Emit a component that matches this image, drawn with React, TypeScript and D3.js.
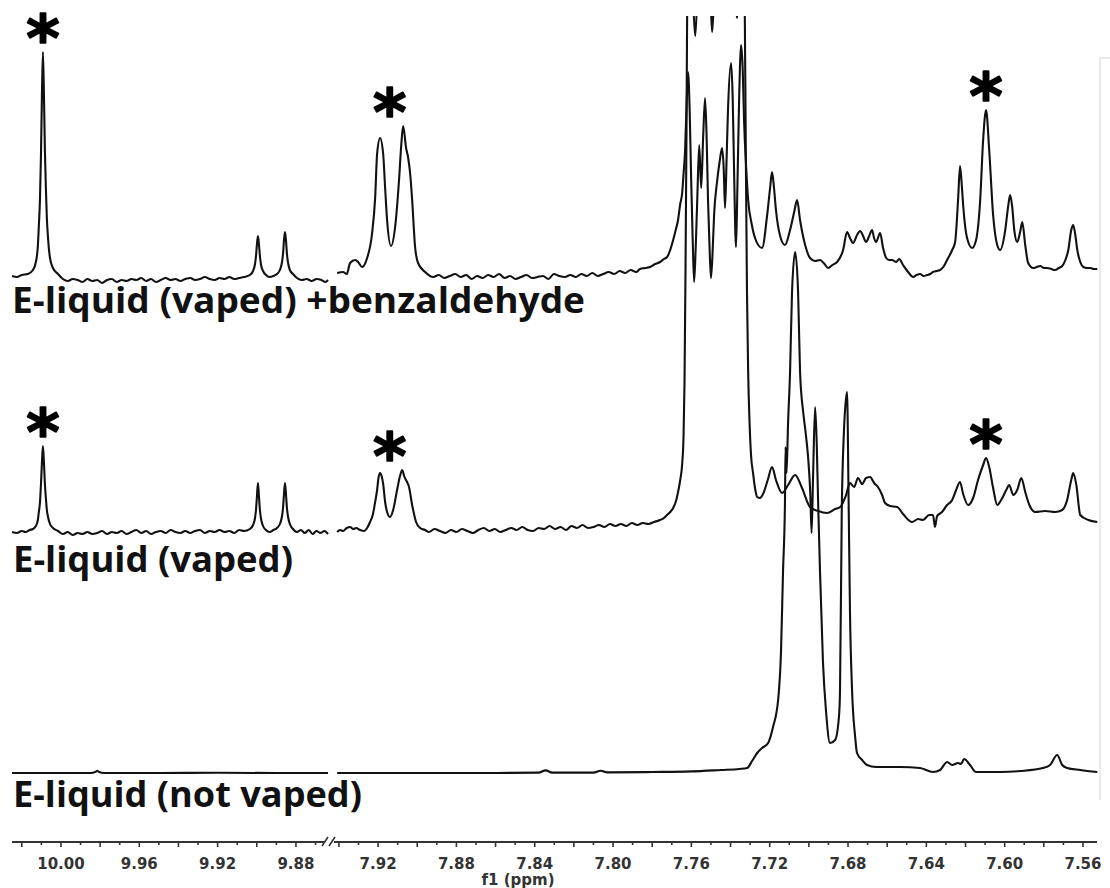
import React from 'react';
import * as d3 from 'd3';

const WIDTH = 1110;
const HEIGHT = 888;

// Chemical-shift windows (ppm) of the two halves of the broken f1 axis
const LEFT_WINDOW: [number, number] = [10.025, 9.867];
const RIGHT_WINDOW: [number, number] = [7.942, 7.553];

// Labelled ticks (every 0.04 ppm)
const LEFT_TICK_LABELS = ['10.00', '9.96', '9.92', '9.88'];
const RIGHT_TICK_LABELS = ['7.92', '7.88', '7.84', '7.80', '7.76', '7.72', '7.68', '7.64', '7.60', '7.56'];
const AXIS_TITLE = 'f1 (ppm)';

// Trace names, top to bottom, and their stacking offsets (intensity units)
const TRACE_NAMES = ['E-liquid (vaped) +benzaldehyde', 'E-liquid (vaped)', 'E-liquid (not vaped)'];
const TRACE_OFFSETS = [247, 120, 0];

// Benzaldehyde signals flagged with an asterisk (ppm), per trace
const STARRED_TOP = [10.0092, 7.914, 7.6095];
const STARRED_MID = [10.0092, 7.914, 7.6095];
const STARRED_BOT: number[] = [];

// ---- spectra: [ppm, intensity] ----
const TOP_LEFT: [number, number][] = [
  [10.025, 1], [10.0225, 0.5], [10.02, 1.5], [10.0169, 2], [10.0143, 4], [10.0128, 8], [10.0118, 16],
  [10.0113, 26], [10.0107, 40], [10.0102, 62], [10.0097, 92], [10.0092, 113], [10.0087, 92], [10.0082, 64],
  [10.0077, 45], [10.0072, 30], [10.0066, 20], [10.0056, 10], [10.0041, 5], [10.0015, 2],
  [9.999, -0.5], [9.9965, -1.5], [9.994, -0.5], [9.9915, -1], [9.989, -2], [9.9865, -0.5], [9.984, -1.5],
  [9.9815, -1], [9.979, -2.5], [9.9765, -1], [9.974, -0.5], [9.9715, -2], [9.969, -1], [9.9665, -1.5],
  [9.964, -0.5], [9.9615, -1], [9.959, 0], [9.9565, -1.5], [9.954, -0.5], [9.9515, -2], [9.949, -1],
  [9.9465, 0], [9.944, -1], [9.9415, -0.5], [9.939, -1.5], [9.9365, -0.5], [9.934, 0], [9.9315, -1],
  [9.929, -0.5], [9.9265, 0.5], [9.924, -0.5], [9.9215, -1], [9.919, 0], [9.9165, -0.5], [9.914, 0.5],
  [9.9115, -0.5], [9.909, 0], [9.9065, 0.5],
  [9.9035, 1.5], [9.9019, 3.5], [9.9009, 7], [9.9004, 11], [9.8999, 17], [9.8994, 21], [9.8989, 17],
  [9.8984, 11], [9.8979, 7], [9.8968, 3.5], [9.8953, 1.5], [9.8935, 0.5], [9.8915, 1],
  [9.8897, 2], [9.8882, 4], [9.8871, 8], [9.8866, 12], [9.8861, 19], [9.8856, 23], [9.8851, 19],
  [9.8846, 12], [9.8841, 8], [9.8831, 4], [9.8815, 2], [9.8795, 0], [9.877, -1], [9.8745, -0.5],
  [9.872, -1.5], [9.8695, -0.5], [9.867, -1], [9.865, -2], [9.8636, -1],
];

const TOP_RIGHT: [number, number][] = [
  [7.9409, 2.5], [7.9379, 3], [7.936, 2], [7.9343, 7.5], [7.9317, 9], [7.9302, 8], [7.9282, 5.5],
  [7.9256, 10], [7.9231, 22], [7.9215, 40], [7.9205, 62], [7.919, 70], [7.9174, 62], [7.9164, 45],
  [7.9154, 29], [7.9134, 16], [7.9113, 25.5], [7.9093, 49], [7.9082, 66], [7.9072, 76], [7.9057, 65],
  [7.9047, 60.5], [7.9036, 52], [7.9026, 39], [7.9011, 15.5], [7.8996, 7.5], [7.896, 3], [7.8919, 0.5],
  [7.889, 1.5], [7.8862, 0], [7.8834, 1], [7.8806, 2], [7.8778, 0.5], [7.875, 1.5], [7.8722, -0.5],
  [7.8694, 1], [7.8666, 0], [7.8638, 1.5], [7.861, 0.5], [7.8582, 2], [7.8554, 0], [7.8526, 1],
  [7.8498, -0.5], [7.847, 0.5], [7.8442, 1.5], [7.8414, 0], [7.8386, 0.5], [7.8358, 1], [7.833, -0.5],
  [7.8302, 2], [7.8274, 1], [7.8246, 0.5], [7.8218, 1.5], [7.819, 0.5], [7.8162, 2], [7.8134, 1],
  [7.8106, 2.5], [7.8078, 1], [7.805, 2], [7.8022, 3], [7.7994, 2], [7.7966, 3.5], [7.7938, 2.5],
  [7.791, 4], [7.7882, 3], [7.7862, 4.5], [7.7836, 5], [7.7811, 5.5], [7.7785, 7], [7.776, 8],
  [7.774, 9.5], [7.7724, 10.5], [7.7708, 14], [7.7693, 19], [7.768, 24], [7.7668, 29], [7.7657, 37],
  [7.7647, 42.5], [7.764, 52], [7.7632, 64], [7.7625, 85], [7.7617, 103], [7.7609, 85], [7.7601, 49],
  [7.7593, 18], [7.7586, -2], [7.7578, 15], [7.757, 39], [7.756, 66.5], [7.755, 45], [7.754, 70],
  [7.753, 90], [7.7522, 70], [7.7515, 39], [7.7507, 15], [7.75, 0], [7.7492, 12], [7.7484, 31.5],
  [7.7469, 48], [7.7456, 58], [7.7443, 65], [7.7435, 55], [7.7428, 35], [7.742, 60], [7.7413, 84],
  [7.7397, 107.5], [7.7389, 90], [7.7382, 54], [7.7372, 15.5], [7.7365, 45], [7.7356, 90],
  [7.7346, 116.5], [7.7338, 105], [7.7331, 79], [7.732, 55], [7.731, 39], [7.7292, 27], [7.7275, 20],
  [7.7239, 15], [7.7213, 31.5], [7.7198, 45], [7.7188, 53], [7.7178, 45], [7.7168, 34], [7.7148, 21.5],
  [7.7122, 16.5], [7.7096, 24], [7.7075, 33], [7.706, 39], [7.7045, 29], [7.7019, 16.5], [7.6994, 10],
  [7.6968, 8.5], [7.6943, 9], [7.692, 7], [7.6902, 5], [7.688, 6.5], [7.6856, 8], [7.6825, 14],
  [7.6805, 23], [7.679, 20], [7.6774, 17.5], [7.6754, 21.5], [7.6738, 23.5], [7.6723, 21], [7.6708, 18],
  [7.6692, 21], [7.6677, 24], [7.6667, 20], [7.6657, 18], [7.6636, 22.5], [7.6621, 15], [7.6605, 10],
  [7.659, 9], [7.6575, 9], [7.6554, 8], [7.6539, 9.5], [7.6519, 6.5], [7.6493, 3], [7.6468, 0.5],
  [7.645, 1.5], [7.6432, 2], [7.6414, 1], [7.6396, 1.5], [7.638, 2], [7.6366, 3], [7.6348, 3.5],
  [7.633, 4], [7.631, 6], [7.6294, 9], [7.6268, 14], [7.6253, 18], [7.6238, 39], [7.6228, 56],
  [7.6218, 45], [7.6212, 36.5], [7.6192, 20], [7.6166, 15], [7.6146, 19], [7.6125, 39], [7.611, 69],
  [7.6095, 84], [7.6079, 64], [7.6059, 31.5], [7.6038, 16.5], [7.6023, 14], [7.5997, 24], [7.5982, 36],
  [7.5972, 41.5], [7.5962, 36], [7.5951, 24], [7.5936, 18], [7.5921, 23], [7.591, 28], [7.5895, 16.5],
  [7.588, 7.5], [7.5854, 5], [7.5836, 5.5], [7.5818, 6], [7.58, 5], [7.5783, 5], [7.5762, 4.5],
  [7.5742, 4], [7.5724, 5], [7.5706, 6], [7.569, 9], [7.5675, 14], [7.566, 24], [7.565, 26.5],
  [7.564, 22], [7.5629, 14], [7.5614, 8], [7.5598, 5.5], [7.558, 5], [7.5563, 5], [7.5545, 4.5],
  [7.5527, 4.5],
];

const MID_LEFT: [number, number][] = [
  [10.025, 0], [10.0225, -0.5], [10.02, 0.5], [10.018, 0], [10.016, 1], [10.0143, 1.5], [10.0128, 3],
  [10.0118, 6], [10.0113, 10], [10.0107, 15], [10.0102, 24], [10.0097, 35], [10.0092, 43], [10.0087, 35],
  [10.0082, 24], [10.0077, 17], [10.0072, 11], [10.0066, 7.5], [10.0056, 4], [10.0041, 2], [10.0015, 0.5],
  [9.999, -1], [9.9965, 0], [9.994, -1.5], [9.9915, -0.5], [9.989, -1], [9.9865, 0], [9.984, -1],
  [9.9815, -0.5], [9.979, 0.5], [9.9765, -1], [9.974, 0], [9.9715, -0.5], [9.969, 0.5], [9.9665, -1],
  [9.964, 0], [9.9615, 1], [9.959, -0.5], [9.9565, 0.5], [9.954, -1], [9.9515, 0], [9.949, 0.5],
  [9.9465, -0.5], [9.944, 1], [9.9415, 0], [9.939, -0.5], [9.9365, 0.5], [9.934, -0.5], [9.9315, 0.5],
  [9.929, 1], [9.9265, -0.5], [9.924, 0.5], [9.9215, 0], [9.919, 1], [9.9165, 0], [9.914, 0.5],
  [9.9115, -0.5], [9.909, 1], [9.9065, 0.5],
  [9.9035, 1.5], [9.9019, 3.5], [9.9009, 7], [9.9004, 11], [9.8999, 18], [9.8994, 24.5], [9.8989, 18],
  [9.8984, 11], [9.8979, 7], [9.8968, 3], [9.8953, 1], [9.8935, 0], [9.8915, 1],
  [9.8897, 2], [9.8882, 4], [9.8871, 8], [9.8866, 12], [9.8861, 19], [9.8856, 24.5], [9.8851, 19],
  [9.8846, 12], [9.8841, 8], [9.8831, 4], [9.8815, 1.5], [9.8795, 0], [9.8775, 1], [9.8755, -0.5],
  [9.8735, 1], [9.8715, -1], [9.8695, 0.5], [9.8675, -0.5], [9.8655, 0.5], [9.8636, -1],
];

const MID_RIGHT: [number, number][] = [
  [7.9409, 0], [7.9394, 1], [7.9379, 0.5], [7.936, 2], [7.9343, 2.5], [7.9327, 1.5], [7.9312, 2],
  [7.9292, 1], [7.9272, 0.5], [7.9256, 2], [7.9241, 5], [7.9226, 9], [7.9215, 15], [7.9205, 21],
  [7.9198, 27], [7.919, 29.5], [7.9182, 28], [7.9174, 24], [7.9164, 15], [7.9154, 10], [7.9139, 7.5],
  [7.9123, 11], [7.9103, 21], [7.9088, 28], [7.9077, 31], [7.9067, 28], [7.9052, 25], [7.9042, 22.5],
  [7.9026, 13.5], [7.9006, 5], [7.8985, 2], [7.896, 1],
  [7.894, 0], [7.8912, 1.5], [7.8884, 0.5], [7.8856, -0.5], [7.8828, 1], [7.88, 0], [7.8772, 1.5],
  [7.8744, 0.5], [7.8716, -0.5], [7.8688, 1], [7.866, 2], [7.8632, 0.5], [7.8604, 1.5], [7.8576, 0],
  [7.8548, 1], [7.852, 2], [7.8492, 1], [7.8464, 2.5], [7.8436, 1], [7.8408, 0.5], [7.838, 2],
  [7.8352, 1.5], [7.8324, 3], [7.8296, 1.5], [7.8268, 2.5], [7.824, 1], [7.8212, 3], [7.8184, 2],
  [7.8156, 3.5], [7.8128, 2], [7.81, 2.5], [7.8072, 3.5], [7.8044, 2.5], [7.8016, 4], [7.7988, 3],
  [7.796, 4], [7.7932, 3], [7.7904, 4.5], [7.7876, 3.5], [7.7848, 4.5], [7.782, 4], [7.779, 5],
  [7.776, 6], [7.774, 7], [7.7724, 8.5], [7.7708, 10], [7.7693, 12], [7.768, 15], [7.7668, 20],
  [7.7657, 26], [7.7647, 34], [7.764, 48], [7.7635, 75], [7.763, 130], [7.7625, 200], [7.7619, 300],
  [7.761, 340], [7.76, 310], [7.759, 265], [7.758, 248], [7.757, 270], [7.756, 320], [7.7535, 340],
  [7.751, 300], [7.75, 262], [7.7494, 250], [7.7487, 262], [7.747, 310], [7.7428, 345], [7.739, 295],
  [7.7375, 265], [7.7367, 257], [7.736, 265], [7.735, 300], [7.7338, 320], [7.7328, 270], [7.7322, 190],
  [7.7316, 120], [7.731, 80], [7.7303, 55], [7.7295, 38], [7.7285, 29.5], [7.7275, 22], [7.7264, 17.5],
  [7.725, 17], [7.7234, 19], [7.721, 26], [7.7188, 32.5], [7.7168, 26], [7.7137, 19.5], [7.7106, 23.5],
  [7.707, 28.5], [7.7035, 22], [7.6994, 12.5], [7.6953, 10.5], [7.6907, 9.5], [7.6866, 11.5],
  [7.684, 12.5], [7.681, 18.5], [7.679, 24.5], [7.6769, 22.5], [7.6749, 27], [7.6728, 24], [7.6708, 27],
  [7.6687, 27.5], [7.6667, 24.5], [7.6647, 22.5], [7.6626, 18.5], [7.6611, 14.5], [7.6585, 13],
  [7.6549, 12.5], [7.6519, 9], [7.6473, 5], [7.6442, 6.5], [7.6417, 6], [7.6386, 8.5], [7.6366, 8.5],
  [7.6356, 2.5], [7.6345, 8], [7.632, 10], [7.6294, 13.5], [7.6268, 16], [7.6248, 21], [7.6228, 25],
  [7.6212, 19], [7.6187, 13.5], [7.6161, 17], [7.6136, 26], [7.611, 33.5], [7.6095, 37], [7.6079, 32.5],
  [7.6059, 22], [7.6038, 13.5], [7.6018, 16], [7.5992, 21], [7.5977, 23.5], [7.5956, 18.5], [7.5936, 21],
  [7.5915, 27], [7.5895, 20], [7.5874, 13.5], [7.5844, 10], [7.5793, 10.5], [7.5742, 10], [7.5706, 11],
  [7.5681, 16], [7.566, 26], [7.565, 29.5], [7.5634, 23.5], [7.5614, 8.5], [7.5573, 6], [7.5527, 5],
];

const BOT_LEFT: [number, number][] = [
  [10.025, -0.5], [10.0, -0.5], [9.985, -0.5], [9.9825, 0], [9.9815, 0.6], [9.9805, 0], [9.978, -0.5],
  [9.95, -0.5], [9.92, -0.4], [9.89, -0.5], [9.8636, -0.5],
];

const BOT_RIGHT: [number, number][] = [
  [7.9409, -0.5], [7.9, -0.5], [7.86, -0.5], [7.838, -0.3], [7.8345, 0.8], [7.831, -0.3], [7.81, -0.3],
  [7.8064, 0.6], [7.803, -0.2], [7.78, 0], [7.76, 0.3], [7.745, 1], [7.7355, 1.5], [7.7315, 2],
  [7.729, 5.5], [7.7264, 9.5], [7.7239, 12], [7.7208, 14.5], [7.7183, 22.5], [7.7157, 36], [7.7142, 61],
  [7.7132, 100], [7.7122, 135], [7.7119, 162.5], [7.7114, 149.5], [7.7106, 175], [7.7096, 200],
  [7.7086, 240], [7.707, 260], [7.7055, 240], [7.7045, 200], [7.7029, 180], [7.7018, 171], [7.7004, 157.5],
  [7.6993, 140], [7.6986, 119.5], [7.6978, 150], [7.6968, 182.5], [7.696, 165], [7.6953, 136],
  [7.6943, 100], [7.6928, 55], [7.6912, 30], [7.6892, 14.5], [7.6866, 16], [7.6846, 28], [7.6841, 40],
  [7.6832, 130], [7.6821, 170], [7.6811, 186], [7.6805, 190], [7.6797, 136], [7.679, 80], [7.6779, 40],
  [7.6764, 18], [7.6754, 9.5], [7.6728, 6], [7.6703, 3.5], [7.6657, 2.5], [7.6534, 2.5], [7.6432, 2],
  [7.6366, 0], [7.633, 1], [7.6294, 5], [7.6268, 3.5], [7.6238, 4.5], [7.6223, 4], [7.6207, 6.5],
  [7.6177, 3.5], [7.6146, 0], [7.6023, 0], [7.5921, 0.5], [7.5804, 2], [7.5768, 3.5], [7.5732, 8.5],
  [7.5706, 3.5], [7.5681, 2], [7.5614, 1], [7.5527, 0],
];

const TRACES = [
  { name: TRACE_NAMES[0], offset: TRACE_OFFSETS[0], left: TOP_LEFT, right: TOP_RIGHT, stars: STARRED_TOP },
  { name: TRACE_NAMES[1], offset: TRACE_OFFSETS[1], left: MID_LEFT, right: MID_RIGHT, stars: STARRED_MID },
  { name: TRACE_NAMES[2], offset: TRACE_OFFSETS[2], left: BOT_LEFT, right: BOT_RIGHT, stars: STARRED_BOT },
];

// Name label placement (baseline y, x, drawn width)
const NAME_LAYOUT = [
  { x: 12, y: 313, w: 573 },
  { x: 13, y: 572, w: 280 },
  { x: 13, y: 807, w: 349 },
];

const INK = '#111';

export default function App() {
  const xLeft = d3.scaleLinear().domain(LEFT_WINDOW).range([12, 321.4]);
  const xRight = d3.scaleLinear().domain(RIGHT_WINDOW).range([335, 1096.7]);
  const yScale = d3.scaleLinear().domain([0, 100]).range([772, 572]);
  const axisY = 842;

  const lineFor = (xs: d3.ScaleLinear<number, number>, offset: number) =>
    d3
      .line<[number, number]>()
      .x((d) => xs(d[0]))
      .y((d) => yScale(d[1] + offset))
      .curve(d3.curveMonotoneX);

  const xFor = (ppm: number) => (ppm > 9 ? xLeft(ppm) : xRight(ppm));

  // ticks every 0.01 ppm, longer every 0.02
  const leftTicks = d3.range(987, 1003).map((k) => ({ k, x: xLeft(k / 100) }));
  const rightTicks = d3.range(756, 795).map((k) => ({ k, x: xRight(k / 100) }));

  const starY = (seg: [number, number][], ppm: number, offset: number) => {
    const near = seg.filter((d) => Math.abs(d[0] - ppm) < 0.007);
    const top = d3.max(near, (d) => d[1]) ?? 0;
    return yScale(top + offset) - 23;
  };

  const starSize = 64;

  return (
    <svg
      width={WIDTH}
      height={HEIGHT}
      style={{ position: 'absolute', left: 0, top: 0, background: '#fff' }}
    >
      <defs>
        <clipPath id="plot-clip">
          <rect x={0} y={16} width={WIDTH} height={HEIGHT - 16} />
        </clipPath>
      </defs>
      <rect x={0} y={0} width={WIDTH} height={HEIGHT} fill="#fff" />

      {/* faint frame edge on the right */}
      <path d="M1100,800 L1100,58 L1110,58" fill="none" stroke="#e4e4e4" strokeWidth={1.5} />

      <g clipPath="url(#plot-clip)">
        {TRACES.map((t, i) => (
          <g key={i}>
            <path d={lineFor(xLeft, t.offset)(t.left) ?? ''} fill="none" stroke={INK} strokeWidth={2.1} strokeLinejoin="round" />
            <path d={lineFor(xRight, t.offset)(t.right) ?? ''} fill="none" stroke={INK} strokeWidth={2.1} strokeLinejoin="round" />
          </g>
        ))}
      </g>

      {TRACES.map((t, i) =>
        t.stars.map((ppm, j) => {
          const seg = ppm > 9 ? t.left : t.right;
          const cy = starY(seg, ppm, t.offset);
          return (
            <text
              key={`s${i}-${j}`}
              x={xFor(ppm)}
              y={cy + starSize * 0.5}
              textAnchor="middle"
              fontFamily="DejaVu Sans"
              fontWeight="bold"
              fontSize={starSize}
              fill="#000"
              stroke="#000"
              strokeWidth={1.6}
              strokeLinejoin="round"
            >
              *
            </text>
          );
        })
      )}

      {TRACES.map((t, i) => (
        <text
          key={`n${i}`}
          x={NAME_LAYOUT[i].x}
          y={NAME_LAYOUT[i].y}
          textLength={NAME_LAYOUT[i].w}
          lengthAdjust="spacingAndGlyphs"
          fontFamily="Open Sans"
          fontWeight={700}
          fontSize={35}
          fill="#111"
        >
          {t.name}
        </text>
      ))}

      {/* broken f1 axis */}
      <g stroke="#333" strokeWidth={2}>
        <line x1={12} x2={324} y1={axisY} y2={axisY} />
        <line x1={334} x2={1097} y1={axisY} y2={axisY} />
        {leftTicks.concat(rightTicks).map((t) => (
          <line key={`t${t.k}`} x1={t.x} x2={t.x} y1={axisY} y2={axisY + (t.k % 2 === 0 ? 5 : 3)} strokeWidth={1.6} />
        ))}
        <path d={`M${322},${axisY + 4} L${328},${axisY - 5} M${329},${axisY + 4} L${335},${axisY - 5}`} fill="none" strokeWidth={1.6} />
      </g>

      <g fontFamily="DejaVu Sans" fontWeight="bold" fontSize={15} fill="#333" textAnchor="middle">
        {LEFT_TICK_LABELS.map((l) => (
          <text key={l} x={xLeft(parseFloat(l))} y={axisY + 27}>
            {l}
          </text>
        ))}
        {RIGHT_TICK_LABELS.map((l) => (
          <text key={l} x={xRight(parseFloat(l))} y={axisY + 27}>
            {l}
          </text>
        ))}
        <text x={518} y={axisY + 43}>
          {AXIS_TITLE}
        </text>
      </g>
    </svg>
  );
}
